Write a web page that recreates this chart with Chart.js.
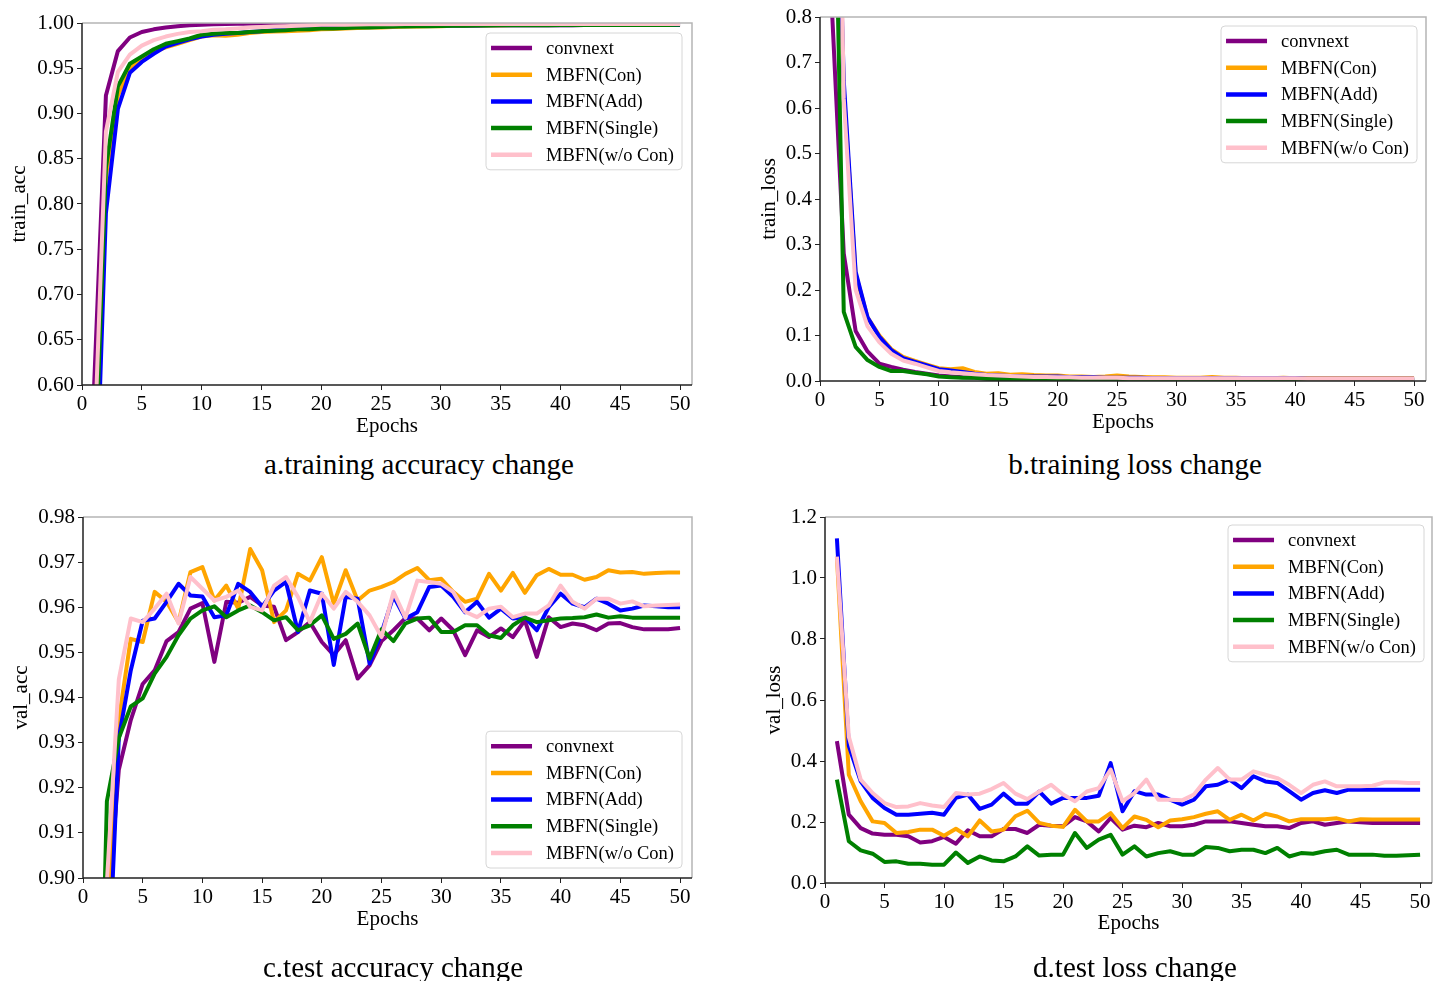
<!DOCTYPE html>
<html>
<head>
<meta charset="utf-8">
<script src="https://cdn.jsdelivr.net/npm/chart.js@4.4.0/dist/chart.umd.min.js"></script>
<style>
  body { margin: 0; background: #fff; width: 1434px; height: 981px; overflow: hidden; position: relative; font-family: "Liberation Serif", "Times New Roman", serif; }
  .panel { position: absolute; }
  .caption { position: absolute; font-size: 29px; color: #000; transform: translateX(-50%); white-space: nowrap; line-height: 32px; }
</style>
</head>
<body>
<div class="panel" style="left:0;top:0"><canvas id="trainAccChart" width="717" height="445"></canvas></div>
<div class="panel" style="left:717px;top:0"><canvas id="trainLossChart" width="717" height="445"></canvas></div>
<div class="panel" style="left:0;top:490px"><canvas id="valAccChart" width="717" height="491"></canvas></div>
<div class="panel" style="left:717px;top:490px"><canvas id="valLossChart" width="717" height="491"></canvas></div>

<div class="caption" style="left:419px;top:448px">a.training accuracy change</div>
<div class="caption" style="left:1135px;top:448px">b.training loss change</div>
<div class="caption" style="left:393px;top:951px">c.test accuracy change</div>
<div class="caption" style="left:1135px;top:951px">d.test loss change</div>

<script>
// ---- data ----
const epochs = [1,2,3,4,5,6,7,8,9,10,11,12,13,14,15,16,17,18,19,20,21,22,23,24,25,26,27,28,29,30,31,32,33,34,35,36,37,38,39,40,41,42,43,44,45,46,47,48,49,50];
const seriesNames = ['convnext', 'MBFN(Con)', 'MBFN(Add)', 'MBFN(Single)', 'MBFN(w/o Con)'];
const seriesColors = ['#800080', '#FFA500', '#0000FF', '#008000', '#FFC0CB'];

const xTicks = [0, 5, 10, 15, 20, 25, 30, 35, 40, 45, 50];
const trainAccTicks = [0.60, 0.65, 0.70, 0.75, 0.80, 0.85, 0.90, 0.95, 1.00];
const trainLossTicks = [0.0, 0.1, 0.2, 0.3, 0.4, 0.5, 0.6, 0.7, 0.8];
const valAccTicks = [0.90, 0.91, 0.92, 0.93, 0.94, 0.95, 0.96, 0.97, 0.98];
const valLossTicks = [0.0, 0.2, 0.4, 0.6, 0.8, 1.0, 1.2];

// a. train_acc
const trainAccConvnext = [0.595,0.920,0.969,0.984,0.990,0.993,0.995,0.9965,0.9975,0.998,0.9985,0.999,0.9992,0.9993,0.9995,0.9995,0.9996,0.9996,0.9997,0.9997,0.9997,0.9997,0.9998,0.9998,0.9998,0.9998,0.9998,0.9998,0.9998,0.9998,0.9998,0.9998,0.9998,0.9998,0.9998,0.9998,0.9998,0.9998,0.9998,0.9998,0.9998,0.9998,0.9998,0.9998,0.9998,0.9998,0.9998,0.9998,0.9998,0.9998];
const trainAccCon = [0.45,0.83,0.92,0.950,0.960,0.968,0.973,0.977,0.981,0.985,0.9865,0.986,0.987,0.989,0.990,0.9905,0.991,0.9915,0.992,0.993,0.9935,0.994,0.9945,0.995,0.995,0.9955,0.996,0.996,0.9965,0.9965,0.997,0.997,0.997,0.9972,0.9972,0.9974,0.9974,0.9975,0.9975,0.9976,0.9976,0.9977,0.9977,0.9977,0.9978,0.9978,0.9978,0.9978,0.9979,0.9979];
const trainAccAdd = [0.40,0.79,0.905,0.945,0.957,0.966,0.974,0.978,0.982,0.985,0.987,0.988,0.989,0.990,0.991,0.992,0.993,0.9935,0.994,0.995,0.995,0.9955,0.996,0.996,0.9965,0.9965,0.997,0.997,0.997,0.9972,0.9972,0.9973,0.9973,0.9974,0.9974,0.9975,0.9975,0.9975,0.9976,0.9976,0.9976,0.9977,0.9977,0.9977,0.9977,0.9978,0.9978,0.9978,0.9978,0.9978];
const trainAccSingle = [0.47,0.84,0.93,0.955,0.963,0.971,0.977,0.980,0.983,0.987,0.988,0.989,0.989,0.990,0.991,0.9915,0.992,0.993,0.993,0.994,0.994,0.9945,0.995,0.995,0.9955,0.996,0.996,0.9963,0.9965,0.9967,0.997,0.997,0.9972,0.9973,0.9974,0.9975,0.9975,0.9976,0.9976,0.9977,0.9977,0.9977,0.9978,0.9978,0.9978,0.9979,0.9979,0.9979,0.9979,0.998];
const trainAccWoCon = [0.52,0.88,0.946,0.965,0.975,0.981,0.985,0.988,0.990,0.991,0.9925,0.993,0.994,0.995,0.9955,0.996,0.9965,0.997,0.9975,0.998,0.998,0.9982,0.9984,0.9985,0.9986,0.9987,0.9988,0.9988,0.9989,0.999,0.999,0.999,0.999,0.999,0.999,0.999,0.999,0.999,0.999,0.999,0.999,0.999,0.999,0.999,0.999,0.999,0.999,0.999,0.999,0.999];

// b. train_loss
const trainLossConvnext = [0.82,0.28,0.11,0.065,0.038,0.031,0.025,0.020,0.016,0.012,0.010,0.008,0.007,0.006,0.005,0.004,0.004,0.003,0.003,0.003,0.003,0.002,0.002,0.002,0.002,0.002,0.002,0.002,0.002,0.002,0.002,0.002,0.002,0.002,0.002,0.002,0.002,0.002,0.002,0.002,0.002,0.002,0.002,0.002,0.002,0.002,0.002,0.002,0.002,0.002];
const trainLossCon = [1.6,0.64,0.235,0.14,0.10,0.07,0.053,0.044,0.036,0.028,0.026,0.028,0.020,0.016,0.017,0.014,0.015,0.013,0.012,0.012,0.010,0.010,0.009,0.010,0.012,0.010,0.009,0.008,0.008,0.007,0.007,0.007,0.009,0.007,0.007,0.006,0.006,0.006,0.007,0.006,0.006,0.006,0.006,0.006,0.006,0.006,0.006,0.006,0.006,0.006];
const trainLossAdd = [1.6,0.66,0.24,0.14,0.097,0.068,0.050,0.042,0.034,0.026,0.023,0.020,0.016,0.013,0.012,0.011,0.010,0.010,0.010,0.010,0.008,0.008,0.008,0.007,0.007,0.007,0.007,0.006,0.006,0.006,0.006,0.006,0.006,0.006,0.006,0.006,0.006,0.006,0.006,0.006,0.005,0.005,0.005,0.005,0.005,0.005,0.005,0.005,0.005,0.005];
const trainLossSingle = [1.5,0.152,0.075,0.046,0.031,0.022,0.022,0.018,0.015,0.010,0.008,0.007,0.007,0.005,0.004,0.004,0.002,0.002,0.002,0.002,0.001,0.001,0.001,0.001,0.001,0.001,0.001,0.001,0.001,0.001,0.001,0.001,0.001,0.001,0.001,0.001,0.001,0.001,0.001,0.001,0.001,0.001,0.001,0.001,0.001,0.001,0.001,0.001,0.001,0.001];
const trainLossWoCon = [2.2,0.62,0.20,0.12,0.085,0.060,0.045,0.038,0.030,0.022,0.019,0.017,0.015,0.013,0.012,0.011,0.010,0.009,0.009,0.008,0.008,0.007,0.007,0.007,0.007,0.006,0.006,0.006,0.006,0.006,0.006,0.006,0.006,0.006,0.006,0.006,0.006,0.006,0.006,0.006,0.005,0.005,0.005,0.005,0.005,0.005,0.005,0.005,0.005,0.005];

// c. val_acc
const valAccConvnext = [0.80,0.89,0.924,0.935,0.943,0.946,0.9525,0.9545,0.9597,0.9609,0.9479,0.9612,0.9610,0.9623,0.9604,0.9601,0.9527,0.9545,0.9567,0.9523,0.9494,0.9527,0.9442,0.9471,0.9525,0.9549,0.9576,0.9575,0.9549,0.9575,0.9549,0.9494,0.9549,0.9534,0.9553,0.9534,0.9571,0.9490,0.9578,0.9556,0.9564,0.9560,0.9549,0.9564,0.9565,0.9556,0.9551,0.9551,0.9551,0.9554];
const valAccCon = [0.80,0.885,0.935,0.953,0.9523,0.9634,0.9612,0.9567,0.9678,0.9689,0.9615,0.9648,0.9597,0.9729,0.9682,0.9567,0.9593,0.9674,0.9659,0.9711,0.9608,0.9682,0.9615,0.9637,0.9645,0.9656,0.9674,0.9687,0.9660,0.9663,0.9634,0.9612,0.9619,0.9674,0.9637,0.9676,0.9632,0.9671,0.9685,0.9672,0.9672,0.9661,0.9667,0.9682,0.9677,0.9678,0.9674,0.9676,0.9677,0.9677];
const valAccAdd = [0.80,0.87,0.931,0.946,0.957,0.9575,0.9612,0.9652,0.9626,0.9624,0.9578,0.9582,0.9652,0.9634,0.9601,0.9637,0.9656,0.9545,0.9637,0.9630,0.9472,0.9623,0.9619,0.9475,0.9543,0.9625,0.9575,0.9589,0.9645,0.9648,0.9623,0.9589,0.9612,0.9577,0.9597,0.9575,0.9578,0.9549,0.9600,0.9630,0.9608,0.9600,0.9619,0.9608,0.9593,0.9597,0.9604,0.9602,0.9600,0.9600];
const valAccSingle = [0.81,0.917,0.931,0.938,0.9398,0.9453,0.9490,0.9538,0.9575,0.9593,0.9602,0.9578,0.9593,0.9604,0.9589,0.9571,0.9578,0.9549,0.9560,0.9582,0.9530,0.9541,0.9564,0.9486,0.9551,0.9525,0.9564,0.9575,0.9577,0.9545,0.9545,0.9560,0.9560,0.9538,0.9532,0.9560,0.9577,0.9567,0.9571,0.9575,0.9576,0.9578,0.9584,0.9577,0.9580,0.9577,0.9577,0.9577,0.9577,0.9577];
const valAccWoCon = [0.80,0.899,0.944,0.9575,0.9567,0.9597,0.9630,0.9564,0.9667,0.9641,0.9615,0.9623,0.9637,0.9601,0.9593,0.9648,0.9667,0.9623,0.9567,0.9630,0.9597,0.9634,0.9612,0.9582,0.9534,0.9634,0.9577,0.9659,0.9656,0.9652,0.9634,0.9590,0.9578,0.9597,0.9601,0.9578,0.9586,0.9586,0.9604,0.9648,0.9612,0.9597,0.9619,0.9619,0.9608,0.9613,0.9602,0.9604,0.9605,0.9606];

// d. val_loss
const valLossConvnext = [0.465,0.224,0.180,0.162,0.158,0.158,0.153,0.133,0.137,0.151,0.129,0.173,0.153,0.153,0.177,0.177,0.164,0.191,0.188,0.186,0.216,0.202,0.169,0.213,0.175,0.188,0.183,0.197,0.186,0.186,0.191,0.202,0.202,0.202,0.197,0.191,0.186,0.186,0.180,0.197,0.202,0.191,0.197,0.202,0.199,0.197,0.197,0.197,0.197,0.197];
const valLossCon = [1.07,0.355,0.268,0.202,0.197,0.164,0.167,0.175,0.175,0.155,0.178,0.153,0.205,0.169,0.175,0.219,0.237,0.197,0.188,0.184,0.240,0.202,0.202,0.229,0.180,0.218,0.207,0.183,0.205,0.209,0.216,0.227,0.235,0.207,0.224,0.205,0.227,0.218,0.202,0.209,0.209,0.209,0.212,0.202,0.209,0.208,0.208,0.208,0.208,0.208];
const valLossAdd = [1.13,0.45,0.333,0.279,0.246,0.224,0.224,0.227,0.230,0.224,0.279,0.290,0.243,0.257,0.293,0.260,0.260,0.300,0.260,0.279,0.279,0.279,0.286,0.393,0.235,0.301,0.290,0.290,0.273,0.257,0.273,0.317,0.322,0.339,0.311,0.350,0.333,0.328,0.301,0.273,0.295,0.304,0.295,0.306,0.306,0.306,0.306,0.306,0.306,0.306];
const valLossSingle = [0.339,0.137,0.107,0.096,0.069,0.071,0.063,0.063,0.060,0.060,0.100,0.066,0.087,0.074,0.071,0.087,0.120,0.090,0.093,0.093,0.164,0.115,0.142,0.158,0.093,0.120,0.087,0.098,0.104,0.093,0.093,0.118,0.115,0.104,0.109,0.109,0.098,0.115,0.087,0.098,0.096,0.104,0.109,0.093,0.093,0.093,0.089,0.089,0.091,0.093];
const valLossWoCon = [1.07,0.48,0.339,0.295,0.262,0.249,0.251,0.262,0.254,0.249,0.295,0.290,0.293,0.308,0.328,0.293,0.275,0.300,0.322,0.290,0.268,0.300,0.311,0.372,0.268,0.295,0.339,0.273,0.273,0.271,0.290,0.339,0.377,0.339,0.339,0.366,0.355,0.344,0.322,0.295,0.322,0.333,0.317,0.317,0.317,0.319,0.330,0.330,0.328,0.328];

const FONT = '"Liberation Serif", "Times New Roman", serif';

// matplotlib-like frame + boxed legend inside the axes
const framePlugin = {
    id: 'frameLegend',
    afterDatasetsDraw(chart, args, opts) {
        const ctx = chart.ctx;
        const a = chart.chartArea;
        ctx.save();
        // spines
        ctx.lineWidth = 1.5;
        ctx.strokeStyle = '#b5b5b5';
        ctx.beginPath();
        ctx.moveTo(a.left, a.top); ctx.lineTo(a.right, a.top); ctx.lineTo(a.right, a.bottom);
        ctx.stroke();
        ctx.strokeStyle = '#222';
        ctx.beginPath();
        ctx.moveTo(a.left, a.top); ctx.lineTo(a.left, a.bottom); ctx.lineTo(a.right, a.bottom);
        ctx.stroke();

        // legend
        const sets = chart.data.datasets;
        ctx.font = '18.5px ' + FONT;
        const textW = Math.max(...sets.map(d => ctx.measureText(d.label).width));
        const rowH = 26.7, lineLen = 41;
        const w = 5 + lineLen + 14 + textW + 8;
        const h = 30 + rowH * (sets.length - 1);
        const x = a.right - opts.margin - w;
        const y = opts.corner === 'lower' ? a.bottom - opts.margin - h : a.top + opts.margin;
        ctx.fillStyle = 'rgba(255,255,255,0.85)';
        ctx.strokeStyle = '#d6d6d6';
        ctx.lineWidth = 1;
        ctx.beginPath();
        ctx.roundRect(x, y, w, h, 4);
        ctx.fill();
        ctx.stroke();
        ctx.textBaseline = 'middle';
        ctx.textAlign = 'left';
        sets.forEach((d, i) => {
            const cy = y + 15 + i * rowH;
            ctx.strokeStyle = d.borderColor;
            ctx.lineWidth = 4.5;
            ctx.lineCap = 'butt';
            ctx.beginPath();
            ctx.moveTo(x + 5, cy);
            ctx.lineTo(x + 5 + lineLen, cy);
            ctx.stroke();
            ctx.fillStyle = '#000';
            ctx.fillText(d.label, x + 5 + lineLen + 14, cy + 1);
        });
        ctx.restore();
    }
};

function makeChart(id, series, cfg) {
    const datasets = series.map((vals, i) => ({
        label: seriesNames[i],
        data: epochs.map((e, j) => ({ x: e, y: vals[j] })),
        borderColor: seriesColors[i],
        backgroundColor: seriesColors[i],
        borderWidth: 4,
        pointRadius: 0,
        tension: 0,
        borderJoinStyle: 'round',
        clip: 0,
        order: series.length - 1 - i
    }));

    const tickFont = { family: FONT, size: 21 };
    new Chart(document.getElementById(id), {
        type: 'line',
        data: { datasets: datasets },
        plugins: [framePlugin],
        options: {
            responsive: false,
            animation: false,
            layout: { padding: cfg.pad },
            plugins: {
                legend: { display: false },
                tooltip: { enabled: false },
                frameLegend: { corner: cfg.corner, margin: cfg.legendMargin }
            },
            scales: {
                x: {
                    type: 'linear',
                    min: 0,
                    max: 51,
                    afterBuildTicks: s => { s.ticks = xTicks.map(v => ({ value: v })); },
                    afterFit: s => { s.height = cfg.xHeight; },
                    grid: { drawOnChartArea: false, drawTicks: true, tickLength: 5, tickColor: '#222' },
                    border: { display: false },
                    ticks: { font: tickFont, color: '#000', padding: 2, maxRotation: 0 },
                    title: { display: true, text: 'Epochs', font: tickFont, color: '#000', padding: { top: 0, bottom: 0 } }
                },
                y: {
                    type: 'linear',
                    min: cfg.yMin,
                    max: cfg.yMax,
                    afterBuildTicks: s => { s.ticks = cfg.yTicks.map(v => ({ value: v })); },
                    afterFit: s => { s.width = cfg.yWidth; },
                    grid: { drawOnChartArea: false, drawTicks: true, tickLength: 5, tickColor: '#222' },
                    border: { display: false },
                    ticks: { font: tickFont, color: '#000', padding: 3, callback: v => Number(v).toFixed(cfg.decimals) },
                    title: { display: true, text: cfg.yTitle, font: tickFont, color: '#000', padding: { top: cfg.yTitlePad, bottom: 0 } }
                }
            }
        }
    });
}

makeChart('trainAccChart',
    [trainAccConvnext, trainAccCon, trainAccAdd, trainAccSingle, trainAccWoCon],
    { yMin: 0.6, yMax: 1.0, yTicks: trainAccTicks, decimals: 2, yTitle: 'train_acc',
      pad: { left: 0, top: 23, right: 25, bottom: 6 }, yWidth: 82, xHeight: 54, yTitlePad: 7,
      corner: 'upper', legendMargin: 10 });

makeChart('trainLossChart',
    [trainLossConvnext, trainLossCon, trainLossAdd, trainLossSingle, trainLossWoCon],
    { yMin: 0, yMax: 0.8, yTicks: trainLossTicks, decimals: 1, yTitle: 'train_loss',
      pad: { left: 0, top: 17, right: 8, bottom: 10 }, yWidth: 103, xHeight: 54, yTitlePad: 40,
      corner: 'upper', legendMargin: 9 });

makeChart('valAccChart',
    [valAccConvnext, valAccCon, valAccAdd, valAccSingle, valAccWoCon],
    { yMin: 0.9, yMax: 0.98, yTicks: valAccTicks, decimals: 2, yTitle: 'val_acc',
      pad: { left: 0, top: 27, right: 25, bottom: 49 }, yWidth: 83, xHeight: 54, yTitlePad: 9,
      corner: 'lower', legendMargin: 10 });

makeChart('valLossChart',
    [valLossConvnext, valLossCon, valLossAdd, valLossSingle, valLossWoCon],
    { yMin: 0, yMax: 1.2, yTicks: valLossTicks, decimals: 1, yTitle: 'val_loss',
      pad: { left: 0, top: 27, right: 2, bottom: 45 }, yWidth: 108, xHeight: 53, yTitlePad: 45,
      corner: 'upper', legendMargin: 8 });
</script>
</body>
</html>
